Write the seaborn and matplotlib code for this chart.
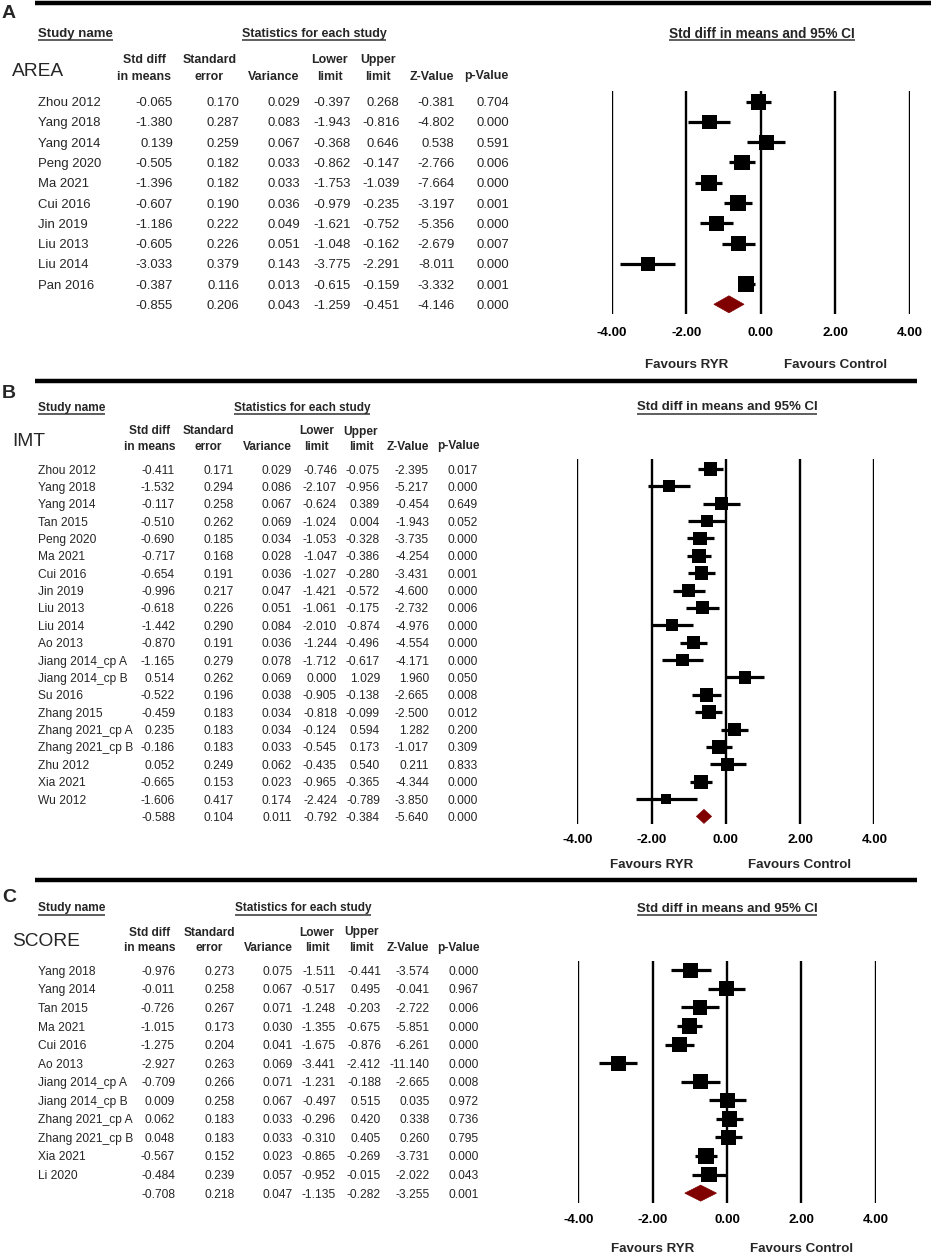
import numpy as np
import pandas as pd
import matplotlib
matplotlib.use("Agg")
import matplotlib.pyplot as plt
import seaborn as sns
from matplotlib.patches import Polygon
import matplotlib.transforms as mtrans

# ---------------- DATA ----------------
names_A = ["Zhou 2012", "Yang 2018", "Yang 2014", "Peng 2020", "Ma 2021", "Cui 2016",
           "Jin 2019", "Liu 2013", "Liu 2014", "Pan 2016"]
smd_A = [-0.065, -1.380, 0.139, -0.505, -1.396, -0.607, -1.186, -0.605, -3.033, -0.387]
se_A = [0.170, 0.287, 0.259, 0.182, 0.182, 0.190, 0.222, 0.226, 0.379, 0.116]
var_A = [0.029, 0.083, 0.067, 0.033, 0.033, 0.036, 0.049, 0.051, 0.143, 0.013]
lo_A = [-0.397, -1.943, -0.368, -0.862, -1.753, -0.979, -1.621, -1.048, -3.775, -0.615]
hi_A = [0.268, -0.816, 0.646, -0.147, -1.039, -0.235, -0.752, -0.162, -2.291, -0.159]
z_A = [-0.381, -4.802, 0.538, -2.766, -7.664, -3.197, -5.356, -2.679, -8.011, -3.332]
p_A = [0.704, 0.000, 0.591, 0.006, 0.000, 0.001, 0.000, 0.007, 0.000, 0.001]
pooled_A = [-0.855, 0.206, 0.043, -1.259, -0.451, -4.146, 0.000]

names_B = ["Zhou 2012", "Yang 2018", "Yang 2014", "Tan 2015", "Peng 2020", "Ma 2021",
           "Cui 2016", "Jin 2019", "Liu 2013", "Liu 2014", "Ao 2013", "Jiang 2014_cp A",
           "Jiang 2014_cp B", "Su 2016", "Zhang 2015", "Zhang 2021_cp A", "Zhang 2021_cp B",
           "Zhu 2012", "Xia 2021", "Wu 2012"]
smd_B = [-0.411, -1.532, -0.117, -0.510, -0.690, -0.717, -0.654, -0.996, -0.618, -1.442,
         -0.870, -1.165, 0.514, -0.522, -0.459, 0.235, -0.186, 0.052, -0.665, -1.606]
se_B = [0.171, 0.294, 0.258, 0.262, 0.185, 0.168, 0.191, 0.217, 0.226, 0.290,
        0.191, 0.279, 0.262, 0.196, 0.183, 0.183, 0.183, 0.249, 0.153, 0.417]
var_B = [0.029, 0.086, 0.067, 0.069, 0.034, 0.028, 0.036, 0.047, 0.051, 0.084,
         0.036, 0.078, 0.069, 0.038, 0.034, 0.034, 0.033, 0.062, 0.023, 0.174]
lo_B = [-0.746, -2.107, -0.624, -1.024, -1.053, -1.047, -1.027, -1.421, -1.061, -2.010,
        -1.244, -1.712, 0.000, -0.905, -0.818, -0.124, -0.545, -0.435, -0.965, -2.424]
hi_B = [-0.075, -0.956, 0.389, 0.004, -0.328, -0.386, -0.280, -0.572, -0.175, -0.874,
        -0.496, -0.617, 1.029, -0.138, -0.099, 0.594, 0.173, 0.540, -0.365, -0.789]
z_B = [-2.395, -5.217, -0.454, -1.943, -3.735, -4.254, -3.431, -4.600, -2.732, -4.976,
       -4.554, -4.171, 1.960, -2.665, -2.500, 1.282, -1.017, 0.211, -4.344, -3.850]
p_B = [0.017, 0.000, 0.649, 0.052, 0.000, 0.000, 0.001, 0.000, 0.006, 0.000,
       0.000, 0.000, 0.050, 0.008, 0.012, 0.200, 0.309, 0.833, 0.000, 0.000]
pooled_B = [-0.588, 0.104, 0.011, -0.792, -0.384, -5.640, 0.000]

names_C = ["Yang 2018", "Yang 2014", "Tan 2015", "Ma 2021", "Cui 2016", "Ao 2013",
           "Jiang 2014_cp A", "Jiang 2014_cp B", "Zhang 2021_cp A", "Zhang 2021_cp B",
           "Xia 2021", "Li 2020"]
smd_C = [-0.976, -0.011, -0.726, -1.015, -1.275, -2.927, -0.709, 0.009, 0.062, 0.048, -0.567, -0.484]
se_C = [0.273, 0.258, 0.267, 0.173, 0.204, 0.263, 0.266, 0.258, 0.183, 0.183, 0.152, 0.239]
var_C = [0.075, 0.067, 0.071, 0.030, 0.041, 0.069, 0.071, 0.067, 0.033, 0.033, 0.023, 0.057]
lo_C = [-1.511, -0.517, -1.248, -1.355, -1.675, -3.441, -1.231, -0.497, -0.296, -0.310, -0.865, -0.952]
hi_C = [-0.441, 0.495, -0.203, -0.675, -0.876, -2.412, -0.188, 0.515, 0.420, 0.405, -0.269, -0.015]
z_C = [-3.574, -0.041, -2.722, -5.851, -6.261, -11.140, -2.665, 0.035, 0.338, 0.260, -3.731, -2.022]
p_C = [0.000, 0.967, 0.006, 0.000, 0.000, 0.000, 0.008, 0.972, 0.736, 0.795, 0.000, 0.043]
pooled_C = [-0.708, 0.218, 0.047, -1.135, -0.282, -3.255, 0.001]

x_ticks = [-4, -2, 0, 2, 4]
col_top = ["Std diff", "Standard", "", "Lower", "Upper", "", ""]
col_bot = ["in means", "error", "Variance", "limit", "limit", "Z-Value", "p-Value"]

# ---------------- STYLE ----------------
sns.set_theme(style="white")
plt.rcParams['font.family'] = ['Liberation Sans', 'DejaVu Sans']
plt.rcParams['axes.unicode_minus'] = False

W, H = 934, 1257
fig = plt.figure(figsize=(W / 100, H / 100), dpi=100)
ax0 = fig.add_axes([0, 0, 1, 1])
ax0.set_xlim(0, W)
ax0.set_ylim(H, 0)
ax0.axis('off')

DIAMOND = '#800000'
YOFF = 1.5  # visual centre correction for va='center'
underline_items = []


def T(x, y, s, **kw):
    kw.setdefault('va', 'center')
    return ax0.text(x, y + YOFF, s, **kw)


def draw_panel(cfg, title, names, smd, se, var, lo, hi, z, p, pooled):
    n = len(names)
    ax0.plot([35, cfg['rule_x1']], [cfg['rule_y']] * 2, color='black', lw=3.2,
             solid_capstyle='butt')
    T(2, cfg['letter_y'], cfg['letter'], fontsize=14, fontweight='bold', ha='left')
    hy = cfg['head_y']
    t1 = T(38, hy, 'Study name', fontsize=cfg['fs_study'], fontweight='bold', ha='left')
    t2 = T(cfg['stats_x'], hy, 'Statistics for each study', fontsize=cfg['fs_stats'],
           fontweight='bold', ha='center')
    t3 = T(cfg['ci_x'], hy, 'Std diff in means and 95% CI', fontsize=cfg['fs_ci'],
           fontweight='bold', ha='center')
    underline_items.extend([(t1, hy + 7.5), (t2, hy + 7.5), (t3, hy + 7.5)])
    T(12, cfg['title_y'], title, fontsize=13.8, ha='left')
    for l1, l2, cx in zip(col_top, col_bot, cfg['col_cx']):
        if l1:
            T(cx, cfg['h1_y'], l1, fontsize=cfg['fs_head'], fontweight='bold', ha='center')
        T(cx, cfg['h2_y'], l2, fontsize=cfg['fs_head'], fontweight='bold', ha='center')
    cols = [smd, se, var, lo, hi, z, p]
    for i in range(n):
        y = cfg['row0'] + i * cfg['dy']
        T(38, y, names[i], fontsize=cfg['fs_row'], ha='left')
        for col, rx in zip(cols, cfg['col_rx']):
            T(rx, y, f"{col[i]:.3f}", fontsize=cfg['fs_row'], ha='right')
    y = cfg['row0'] + n * cfg['dy']
    for val, rx in zip(pooled, cfg['col_rx']):
        T(rx, y, f"{val:.3f}", fontsize=cfg['fs_row'], ha='right')

    # forest axes
    xa, xb = cfg['x_m4'], cfg['x_p4']
    yt, yb = cfg['v_top'], cfg['v_bot']
    top = (yt - cfg['row0']) / cfg['dy']
    bot = (yb - cfg['row0']) / cfg['dy']
    ax = fig.add_axes([xa / W, 1 - yb / H, (xb - xa) / W, (yb - yt) / H])
    ax.patch.set_alpha(0)
    for sp in ax.spines.values():
        sp.set_visible(False)

    # random-effects (DerSimonian-Laird) weights for square sizes
    v = np.asarray(se) ** 2
    yv = np.asarray(smd)
    w = 1 / v
    ybar = np.sum(w * yv) / np.sum(w)
    Q = np.sum(w * (yv - ybar) ** 2)
    C = np.sum(w) - np.sum(w ** 2) / np.sum(w)
    tau2 = max(0.0, (Q - (n - 1)) / C)
    wr = 1 / (v + tau2)
    side = cfg['sq_max'] * np.sqrt(wr / wr.max())
    s_pts = (side * 0.72) ** 2

    df = pd.DataFrame({'row': np.arange(n), 'smd': smd, 'lo': lo, 'hi': hi})
    for xv in x_ticks:
        ax.axvline(xv, color='black', lw=1.7, zorder=1)
    ax.hlines(df['row'], df['lo'], df['hi'], color='black', lw=2.3, zorder=3)
    sns.scatterplot(data=df, x='smd', y='row', size='row',
                    sizes={r: s for r, s in zip(df['row'], s_pts)},
                    marker='s', color='black', edgecolor='none', linewidth=0,
                    legend=False, ax=ax, zorder=4, clip_on=False)
    est, lo_p, hi_p = pooled[0], pooled[3], pooled[4]
    hh = cfg['dia_h'] / 2 / cfg['dy']
    ax.add_patch(Polygon([[lo_p, n], [est, n - hh], [hi_p, n], [est, n + hh]],
                         closed=True, facecolor=DIAMOND, edgecolor=DIAMOND, lw=0.5,
                         zorder=4))
    ax.set_ylim(bot, top)
    ax.set_xlim(-4, 4)
    ax.set_xticks(x_ticks)
    ax.set_xticklabels([f"{t:.2f}" for t in x_ticks], fontsize=9.5, fontweight='bold')
    ax.tick_params(axis='x', length=0, pad=cfg['tick_pad'], colors='black')
    ax.set_yticks([])
    ax.set_xlabel('')
    ax.set_ylabel('')
    tr = mtrans.blended_transform_factory(ax.transData, ax0.transData)
    ax.text(-2, cfg['fav_y'] + YOFF, 'Favours RYR', transform=tr, fontsize=9.6,
            fontweight='bold', ha='center', va='center')
    ax.text(2, cfg['fav_y'] + YOFF, 'Favours Control', transform=tr, fontsize=9.6,
            fontweight='bold', ha='center', va='center')


cfg_A = dict(letter='A', letter_y=12.5, rule_y=3, rule_x1=931, head_y=32,
             stats_x=314, ci_x=762, title_y=70, h1_y=58.3, h2_y=75,
             col_cx=[144, 209.5, 273.7, 329.5, 378, 432, 486],
             col_rx=[173, 239, 300, 351, 399.5, 454.5, 509],
             row0=101.7, dy=20.26, x_m4=611.7, x_p4=910, v_top=90.7, v_bot=314,
             tick_pad=9.5, fav_y=363, sq_max=16, dia_h=17,
             fs_study=9.5, fs_stats=9, fs_ci=9.8, fs_head=8.9, fs_row=9.45)
cfg_B = dict(letter='B', letter_y=392, rule_y=381, rule_x1=917, head_y=406,
             stats_x=302, ci_x=727, title_y=440, h1_y=430, h2_y=445,
             col_cx=[150, 208, 267, 316.7, 361, 408, 458],
             col_rx=[175, 234, 292, 337, 380, 429, 478],
             row0=469, dy=17.37, x_m4=577.3, x_p4=874.3, v_top=459.3, v_bot=824,
             tick_pad=7.2, fav_y=863, sq_max=14, dia_h=14,
             fs_study=8.6, fs_stats=8.5, fs_ci=9.5, fs_head=8.6, fs_row=8.65)
cfg_C = dict(letter='C', letter_y=896, rule_y=880, rule_x1=917, head_y=907,
             stats_x=303, ci_x=727, title_y=940, h1_y=931, h2_y=946.7,
             col_cx=[150, 209, 268, 317, 361.7, 408, 458],
             col_rx=[175, 235, 293, 336, 381, 430, 479],
             row0=970.3, dy=18.57, x_m4=578.3, x_p4=875.7, v_top=961, v_bot=1202.7,
             tick_pad=7.8, fav_y=1248, sq_max=15.5, dia_h=16,
             fs_study=8.6, fs_stats=8.5, fs_ci=9.5, fs_head=8.6, fs_row=8.65)

draw_panel(cfg_A, 'AREA', names_A, smd_A, se_A, var_A, lo_A, hi_A, z_A, p_A, pooled_A)
draw_panel(cfg_B, 'IMT', names_B, smd_B, se_B, var_B, lo_B, hi_B, z_B, p_B, pooled_B)
draw_panel(cfg_C, 'SCORE', names_C, smd_C, se_C, var_C, lo_C, hi_C, z_C, p_C, pooled_C)

# underlines for the section headers
fig.canvas.draw()
renderer = fig.canvas.get_renderer()
for t, yy in underline_items:
    bb = t.get_window_extent(renderer)
    ax0.plot([bb.x0, bb.x1], [yy, yy], color='#333333', lw=1.1, solid_capstyle='butt')

fig.savefig('out.png', dpi=100)
